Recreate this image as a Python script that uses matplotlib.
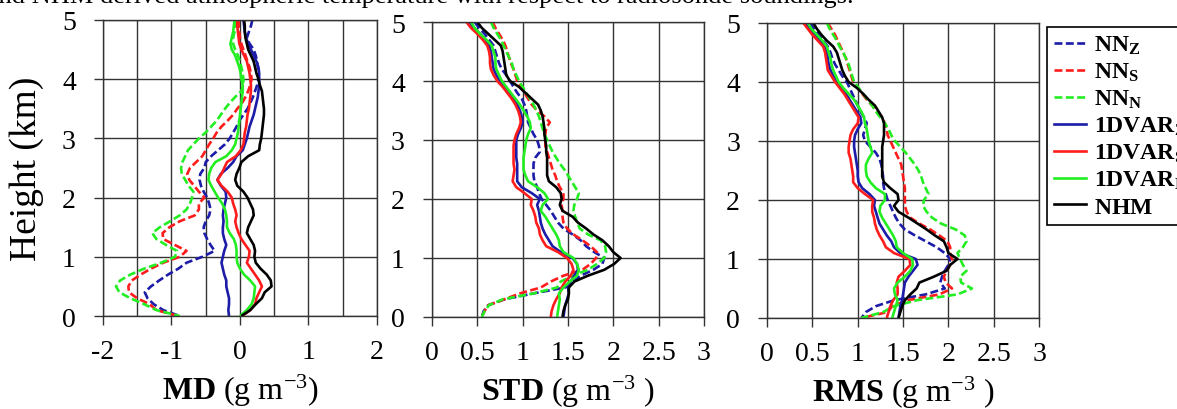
#!/usr/bin/env python3
# Humidity profile statistics (MD / STD / RMS) of retrievals against radiosondes.

import matplotlib

matplotlib.use("Agg")
import matplotlib.pyplot as plt
from matplotlib.lines import Line2D

# heights of the profile levels, top to bottom (km)
HEIGHT_KM = [
    5.0, 4.9, 4.8, 4.7, 4.6, 4.5, 4.4, 4.3, 4.2, 4.1,
    4.0, 3.9, 3.8, 3.7, 3.6, 3.5, 3.4, 3.3, 3.2, 3.1,
    3.0, 2.9, 2.8, 2.7, 2.6, 2.5, 2.4, 2.3, 2.2, 2.1,
    2.0, 1.9, 1.8, 1.7, 1.6, 1.5, 1.4, 1.3, 1.2, 1.1,
    1.0, 0.9, 0.8, 0.7, 0.6, 0.5, 0.4, 0.3, 0.2, 0.1,
    0.0,
]

SERIES = ["NN_Z", "NN_S", "NN_N", "1DVAR_Z", "1DVAR_S", "1DVAR_N", "NHM"]
LEGEND_LABELS = [
    r"$\mathbf{NN_Z}$",
    r"$\mathbf{NN_S}$",
    r"$\mathbf{NN_N}$",
    r"$\mathbf{1DVAR_Z}$",
    r"$\mathbf{1DVAR_S}$",
    r"$\mathbf{1DVAR_N}$",
    r"$\mathbf{NHM}$",
]

# ---- mean difference (g m-3)
md_nn_z = [
    0.18, 0.16, 0.13, 0.10, 0.14, 0.20, 0.23, 0.25, 0.26, 0.27,
    0.27, 0.25, 0.22, 0.19, 0.15, 0.11, 0.05, -0.01, -0.05, -0.10,
    -0.15, -0.22, -0.32, -0.42, -0.50, -0.52, -0.58, -0.59, -0.57, -0.53,
    -0.48, -0.45, -0.43, -0.45, -0.50, -0.53, -0.52, -0.48, -0.43, -0.37,
    -0.55, -0.78, -0.90, -1.05, -1.18, -1.30, -1.39, -1.35, -1.26, -1.12,
    -0.88,
]
md_nn_s = [
    -0.02, -0.02, -0.01, 0.00, 0.02, 0.05, 0.08, 0.11, 0.14, 0.16,
    0.17, 0.15, 0.12, 0.08, 0.03, -0.04, -0.10, -0.18, -0.27, -0.34,
    -0.39, -0.45, -0.50, -0.55, -0.64, -0.73, -0.77, -0.74, -0.67, -0.60,
    -0.52, -0.60, -0.60, -0.66, -0.88, -1.03, -1.13, -1.12, -0.95, -0.78,
    -0.88, -1.12, -1.30, -1.45, -1.58, -1.63, -1.62, -1.50, -1.32, -1.22,
    -0.90,
]
md_nn_n = [
    -0.06, -0.07, -0.08, -0.10, -0.10, -0.07, -0.03, 0.00, 0.02, 0.04,
    0.05, 0.05, 0.02, -0.07, -0.15, -0.22, -0.28, -0.34, -0.42, -0.50,
    -0.60, -0.68, -0.76, -0.80, -0.84, -0.86, -0.85, -0.80, -0.75, -0.68,
    -0.70, -0.73, -0.78, -0.88, -1.02, -1.17, -1.28, -1.22, -1.08, -0.92,
    -0.95, -1.15, -1.40, -1.60, -1.75, -1.81, -1.76, -1.60, -1.40, -1.22,
    -0.88,
]
md_1dvar_z = [
    0.05, 0.06, 0.07, 0.09, 0.12, 0.16, 0.20, 0.24, 0.27, 0.28,
    0.28, 0.28, 0.27, 0.26, 0.24, 0.22, 0.20, 0.17, 0.14, 0.12,
    0.10, 0.07, 0.04, -0.05, -0.10, -0.18, -0.28, -0.33, -0.28, -0.21,
    -0.20, -0.22, -0.24, -0.25, -0.24, -0.25, -0.25, -0.23, -0.20, -0.23,
    -0.25, -0.27, -0.25, -0.23, -0.20, -0.20, -0.18, -0.16, -0.16, -0.17,
    -0.16,
]
md_1dvar_s = [
    -0.04, -0.04, -0.03, -0.02, -0.01, 0.02, 0.06, 0.10, 0.12, 0.14,
    0.15, 0.16, 0.16, 0.15, 0.14, 0.13, 0.11, 0.10, 0.09, 0.07,
    0.06, 0.05, 0.01, -0.06, -0.19, -0.23, -0.27, -0.33, -0.27, -0.18,
    -0.12, -0.10, -0.07, -0.05, -0.07, -0.05, -0.02, 0.02, 0.08, 0.14,
    0.13, 0.10, 0.16, 0.22, 0.28, 0.32, 0.28, 0.24, 0.22, 0.15,
    0.03,
]
md_1dvar_n = [
    -0.08, -0.09, -0.10, -0.12, -0.14, -0.12, -0.07, -0.04, -0.01, 0.01,
    0.02, 0.04, 0.04, 0.03, 0.02, 0.01, 0.00, -0.01, -0.02, -0.03,
    -0.05, -0.07, -0.12, -0.20, -0.36, -0.42, -0.45, -0.46, -0.42, -0.37,
    -0.32, -0.26, -0.22, -0.20, -0.19, -0.19, -0.15, -0.09, -0.06, -0.05,
    -0.05, -0.04, 0.00, 0.06, 0.15, 0.22, 0.21, 0.20, 0.17, 0.10,
    0.00,
]
md_nhm = [
    0.06, 0.07, 0.07, 0.08, 0.10, 0.12, 0.16, 0.20, 0.22, 0.24,
    0.27, 0.29, 0.32, 0.33, 0.34, 0.35, 0.35, 0.34, 0.33, 0.32,
    0.31, 0.29, 0.28, 0.12, 0.02, -0.01, -0.05, -0.07, -0.04, 0.05,
    0.11, 0.15, 0.19, 0.20, 0.16, 0.12, 0.10, 0.15, 0.20, 0.22,
    0.21, 0.23, 0.30, 0.39, 0.45, 0.46, 0.36, 0.32, 0.23, 0.15,
    0.02,
]

# ---- standard deviation (g m-3)
std_nn_z = [
    0.47, 0.52, 0.58, 0.63, 0.68, 0.70, 0.72, 0.74, 0.77, 0.82,
    0.86, 0.90, 0.94, 0.99, 1.02, 1.04, 1.05, 1.06, 1.09, 1.12,
    1.16, 1.18, 1.19, 1.14, 1.12, 1.12, 1.12, 1.13, 1.16, 1.18,
    1.21, 1.26, 1.31, 1.35, 1.39, 1.45, 1.55, 1.64, 1.70, 1.79,
    1.90, 1.88, 1.78, 1.64, 1.55, 1.47, 1.12, 0.80, 0.62, 0.57,
    0.55,
]
std_nn_s = [
    0.67, 0.70, 0.74, 0.78, 0.81, 0.83, 0.85, 0.87, 0.90, 0.92,
    0.94, 0.98, 1.02, 1.06, 1.10, 1.16, 1.24, 1.30, 1.26, 1.25,
    1.25, 1.25, 1.27, 1.29, 1.31, 1.33, 1.36, 1.38, 1.41, 1.45,
    1.45, 1.43, 1.44, 1.44, 1.45, 1.49, 1.56, 1.66, 1.75, 1.82,
    1.81, 1.75, 1.66, 1.45, 1.31, 1.20, 0.97, 0.80, 0.62, 0.58,
    0.55,
]
std_nn_n = [
    0.65, 0.68, 0.72, 0.76, 0.79, 0.82, 0.85, 0.88, 0.90, 0.93,
    0.96, 1.00, 1.04, 1.08, 1.12, 1.15, 1.18, 1.20, 1.22, 1.24,
    1.27, 1.30, 1.33, 1.37, 1.41, 1.46, 1.50, 1.54, 1.58, 1.62,
    1.60, 1.57, 1.56, 1.58, 1.60, 1.63, 1.72, 1.86, 1.91, 1.92,
    1.90, 1.82, 1.72, 1.55, 1.42, 1.38, 1.12, 0.78, 0.63, 0.58,
    0.55,
]
std_1dvar_z = [
    0.41, 0.46, 0.53, 0.59, 0.63, 0.65, 0.66, 0.67, 0.68, 0.71,
    0.75, 0.80, 0.85, 0.90, 0.94, 0.97, 0.99, 1.00, 0.98, 0.95,
    0.93, 0.93, 0.93, 0.93, 0.94, 0.94, 0.94, 0.94, 0.99, 1.10,
    1.19, 1.16, 1.18, 1.19, 1.20, 1.22, 1.25, 1.29, 1.33, 1.42,
    1.55, 1.60, 1.61, 1.57, 1.53, 1.50, 1.51, 1.49, 1.47, 1.46,
    1.45,
]
std_1dvar_s = [
    0.38, 0.43, 0.50, 0.56, 0.61, 0.63, 0.64, 0.64, 0.65, 0.68,
    0.72, 0.78, 0.83, 0.88, 0.92, 0.95, 0.97, 0.98, 0.96, 0.93,
    0.91, 0.90, 0.90, 0.90, 0.90, 0.91, 0.90, 0.89, 0.93, 1.02,
    1.10, 1.09, 1.12, 1.14, 1.15, 1.18, 1.19, 1.22, 1.26, 1.39,
    1.49, 1.54, 1.56, 1.53, 1.47, 1.43, 1.41, 1.37, 1.34, 1.32,
    1.31,
]
std_1dvar_n = [
    0.43, 0.47, 0.53, 0.60, 0.66, 0.68, 0.70, 0.70, 0.71, 0.74,
    0.77, 0.82, 0.87, 0.92, 0.97, 1.01, 1.05, 1.08, 1.09, 1.06,
    1.04, 1.03, 1.02, 1.01, 1.01, 1.01, 1.03, 1.06, 1.16, 1.24,
    1.28, 1.22, 1.20, 1.25, 1.29, 1.33, 1.37, 1.40, 1.41, 1.45,
    1.56, 1.60, 1.62, 1.60, 1.52, 1.45, 1.40, 1.41, 1.40, 1.39,
    1.38,
]
std_nhm = [
    0.50, 0.55, 0.62, 0.69, 0.76, 0.78, 0.79, 0.80, 0.81, 0.82,
    0.86, 0.96, 1.03, 1.10, 1.17, 1.20, 1.22, 1.23, 1.24, 1.24,
    1.25, 1.26, 1.26, 1.27, 1.27, 1.27, 1.27, 1.29, 1.37, 1.42,
    1.43, 1.41, 1.44, 1.55, 1.61, 1.70, 1.78, 1.88, 1.95, 2.00,
    2.08, 2.01, 1.90, 1.72, 1.57, 1.51, 1.51, 1.50, 1.47, 1.45,
    1.44,
]

# ---- root mean square error (g m-3)
rms_nn_z = [
    0.47, 0.52, 0.57, 0.62, 0.67, 0.70, 0.72, 0.75, 0.79, 0.83,
    0.88, 0.91, 0.94, 0.97, 1.00, 1.03, 1.07, 1.10, 1.08, 1.06,
    1.08, 1.14, 1.20, 1.24, 1.26, 1.27, 1.28, 1.28, 1.29, 1.31,
    1.33, 1.36, 1.39, 1.42, 1.46, 1.52, 1.63, 1.75, 1.87, 1.96,
    2.02, 2.00, 1.96, 1.93, 1.91, 1.96, 1.75, 1.40, 1.20, 1.09,
    1.04,
]
rms_nn_s = [
    0.67, 0.71, 0.75, 0.78, 0.81, 0.84, 0.87, 0.89, 0.91, 0.93,
    0.95, 1.00, 1.05, 1.10, 1.16, 1.22, 1.27, 1.30, 1.32, 1.33,
    1.36, 1.39, 1.42, 1.45, 1.48, 1.49, 1.50, 1.51, 1.52, 1.52,
    1.52, 1.52, 1.54, 1.58, 1.68, 1.80, 1.90, 1.99, 2.02, 2.02,
    2.04, 2.02, 1.98, 1.95, 1.97, 2.04, 1.90, 1.55, 1.38, 1.33,
    1.04,
]
rms_nn_n = [
    0.66, 0.69, 0.73, 0.77, 0.80, 0.84, 0.87, 0.90, 0.92, 0.94,
    0.96, 1.01, 1.06, 1.11, 1.16, 1.20, 1.25, 1.30, 1.34, 1.37,
    1.41, 1.47, 1.53, 1.58, 1.63, 1.67, 1.70, 1.72, 1.75, 1.78,
    1.73, 1.72, 1.76, 1.82, 1.92, 2.08, 2.18, 2.20, 2.16, 2.10,
    2.13, 2.16, 2.20, 2.13, 2.14, 2.26, 2.10, 1.65, 1.40, 1.28,
    1.04,
]
rms_1dvar_z = [
    0.42, 0.47, 0.53, 0.59, 0.64, 0.66, 0.67, 0.68, 0.70, 0.73,
    0.77, 0.82, 0.87, 0.91, 0.95, 0.99, 1.03, 1.04, 1.00, 0.97,
    0.96, 0.96, 0.97, 0.98, 0.99, 1.00, 1.00, 1.01, 1.05, 1.13,
    1.19, 1.18, 1.20, 1.22, 1.24, 1.28, 1.32, 1.37, 1.40, 1.47,
    1.64, 1.66, 1.61, 1.56, 1.52, 1.51, 1.50, 1.49, 1.47, 1.46,
    1.45,
]
rms_1dvar_s = [
    0.40, 0.45, 0.50, 0.56, 0.62, 0.64, 0.65, 0.66, 0.67, 0.71,
    0.75, 0.80, 0.85, 0.89, 0.93, 0.97, 1.01, 1.00, 0.95, 0.92,
    0.91, 0.90, 0.90, 0.92, 0.93, 0.94, 0.95, 0.95, 1.00, 1.08,
    1.17, 1.16, 1.16, 1.18, 1.19, 1.21, 1.24, 1.28, 1.31, 1.40,
    1.57, 1.58, 1.52, 1.45, 1.43, 1.44, 1.44, 1.39, 1.36, 1.34,
    1.32,
]
rms_1dvar_n = [
    0.45, 0.49, 0.55, 0.61, 0.66, 0.68, 0.70, 0.71, 0.73, 0.76,
    0.79, 0.84, 0.90, 0.96, 1.00, 1.04, 1.07, 1.08, 1.10, 1.11,
    1.12, 1.14, 1.16, 1.12, 1.09, 1.09, 1.10, 1.14, 1.20, 1.30,
    1.30, 1.25, 1.24, 1.27, 1.31, 1.35, 1.39, 1.42, 1.43, 1.50,
    1.60, 1.61, 1.58, 1.52, 1.44, 1.40, 1.41, 1.44, 1.42, 1.40,
    1.38,
]
rms_nhm = [
    0.51, 0.55, 0.60, 0.66, 0.73, 0.77, 0.79, 0.81, 0.83, 0.86,
    0.90, 0.99, 1.06, 1.12, 1.19, 1.23, 1.27, 1.29, 1.29, 1.29,
    1.28, 1.27, 1.27, 1.27, 1.27, 1.27, 1.27, 1.29, 1.36, 1.44,
    1.45, 1.40, 1.45, 1.56, 1.66, 1.76, 1.85, 1.95, 1.98, 2.00,
    2.10, 2.02, 1.98, 1.84, 1.68, 1.65, 1.58, 1.52, 1.49, 1.47,
    1.45,
]

MD_XTICKS = [-2, -1, 0, 1, 2]
MD_XTICKLABELS = ["-2", "-1", "0", "1", "2"]
ERR_XTICKS = [0, 0.5, 1, 1.5, 2, 2.5, 3]
ERR_XTICKLABELS = ["0", "0.5", "1", "1.5", "2", "2.5", "3"]
HEIGHT_TICKS = [0, 1, 2, 3, 4, 5]

CAPTION_TAIL = "and NHM derived atmospheric temperature with respect to radiosonde soundings."

BLUE = "#1c1ca8"
RED = "#ff1c1c"
GREEN = "#22ee22"
STYLES = {
    "NN_Z": (BLUE, "--"),
    "NN_S": (RED, "--"),
    "NN_N": (GREEN, "--"),
    "1DVAR_Z": (BLUE, "-"),
    "1DVAR_S": (RED, "-"),
    "1DVAR_N": (GREEN, "-"),
    "NHM": ("black", "-"),
}
GRID_COLOR = "#333333"
LINE_WIDTH = 1.9

plt.rcParams["font.family"] = ["Liberation Serif", "DejaVu Serif"]
plt.rcParams["mathtext.fontset"] = "custom"
plt.rcParams["mathtext.rm"] = "Liberation Serif"
plt.rcParams["mathtext.it"] = "Liberation Serif:italic"
plt.rcParams["mathtext.bf"] = "Liberation Serif:bold"


def draw_profiles(ax, data):
    for name in SERIES:
        color, style = STYLES[name]
        (line,) = ax.plot(data[name], HEIGHT_KM, color=color, linewidth=LINE_WIDTH,
                          linestyle=style, solid_capstyle="butt")
        if style == "--":
            line.set_dashes((3.0, 1.3))


def style_axes(ax, xlim, grid_step, xticks, xticklabels, xlabel):
    ax.set_xlim(*xlim)
    ax.set_ylim(0, 5)
    ax.set_yticks(HEIGHT_TICKS)
    ax.set_yticklabels([str(t) for t in HEIGHT_TICKS])
    ax.set_xticks(xticks)
    ax.set_xticklabels(xticklabels)
    minor = []
    value = xlim[0]
    while value <= xlim[1] + 1e-9:
        minor.append(value)
        value += grid_step
    ax.set_xticks(minor, minor=True)
    ax.grid(True, which="both", color=GRID_COLOR, linewidth=1.0)
    ax.set_axisbelow(True)
    ax.tick_params(axis="both", which="major", direction="out", length=6.5,
                   width=1.0, color=GRID_COLOR, labelsize=20)
    ax.tick_params(axis="y", pad=13)
    ax.tick_params(axis="x", pad=10)
    ax.tick_params(axis="x", which="minor", length=0)
    for spine in ax.spines.values():
        spine.set_color(GRID_COLOR)
        spine.set_linewidth(1.0)
    ax.set_xlabel(xlabel, fontsize=23)
    ax.xaxis.set_label_coords(0.5, -0.19)


fig = plt.figure(figsize=(11.77, 4.10), dpi=100)

ax_md = fig.add_axes((0.0875, 0.2268, 0.2328, 0.7220))
ax_std = fig.add_axes((0.3670, 0.2244, 0.2311, 0.7195))
ax_rms = fig.add_axes((0.6517, 0.2220, 0.2311, 0.7195))

md_data = dict(zip(SERIES, [md_nn_z, md_nn_s, md_nn_n, md_1dvar_z, md_1dvar_s, md_1dvar_n, md_nhm]))
std_data = dict(zip(SERIES, [std_nn_z, std_nn_s, std_nn_n, std_1dvar_z, std_1dvar_s, std_1dvar_n, std_nhm]))
rms_data = dict(zip(SERIES, [rms_nn_z, rms_nn_s, rms_nn_n, rms_1dvar_z, rms_1dvar_s, rms_1dvar_n, rms_nhm]))

draw_profiles(ax_md, md_data)
draw_profiles(ax_std, std_data)
draw_profiles(ax_rms, rms_data)

style_axes(ax_md, (-2, 2), 0.5, MD_XTICKS, MD_XTICKLABELS,
           r"$\mathbf{MD}$ (g m$^{-3}$)")
style_axes(ax_std, (0, 3), 0.5, ERR_XTICKS, ERR_XTICKLABELS,
           r"$\mathbf{STD}$ (g m$^{-3}$ )")
style_axes(ax_rms, (0, 3), 0.5, ERR_XTICKS, ERR_XTICKLABELS,
           r"$\mathbf{RMS}$ (g m$^{-3}$ )")

ax_md.set_ylabel("Height (km)", fontsize=27)
ax_md.yaxis.set_label_coords(-0.215, 0.5)

handles = []
for name in SERIES:
    color, style = STYLES[name]
    handle = Line2D([], [], color=color, linewidth=LINE_WIDTH, linestyle=style)
    if style == "--":
        handle.set_dashes((3.0, 1.3))
    handles.append(handle)

legend = fig.legend(
    handles, LEGEND_LABELS,
    loc="upper left", bbox_to_anchor=(1047 / 1177, 1 - 28 / 410),
    borderaxespad=0, fancybox=False, framealpha=1, edgecolor="black",
    prop={"size": 17, "weight": "bold"},
    handlelength=1.35, handletextpad=0.35, labelspacing=0.2, borderpad=0.3,
)
legend.get_frame().set_linewidth(1.2)

# last line of the caption above, mostly cut off by the top edge
fig.text(-0.011, 1 - 2.5 / 410, CAPTION_TAIL, fontsize=19, ha="left", va="baseline")

fig.savefig("out.png", dpi=100)
